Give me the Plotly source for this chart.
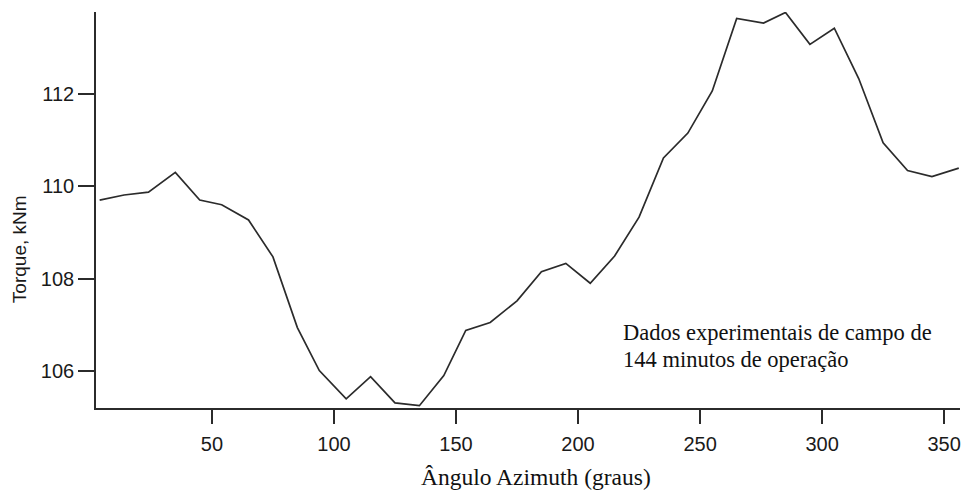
import plotly.graph_objects as go

# Azimuth angle (degrees) and measured rotor torque (kNm)
azimuth = [4, 14, 24, 35, 45, 54, 65, 75, 85, 94, 105, 115, 125, 135, 145, 154,
           164, 175, 185, 195, 205, 215, 225, 235, 245, 255, 265, 276, 285, 295,
           305, 315, 325, 335, 345, 356]
torque = [109.70, 109.81, 109.87, 110.30, 109.70, 109.60, 109.27, 108.47, 106.94,
          106.01, 105.40, 105.88, 105.31, 105.25, 105.90, 106.88, 107.05, 107.52,
          108.15, 108.33, 107.90, 108.49, 109.33, 110.61, 111.15, 112.06, 113.63,
          113.53, 113.76, 113.07, 113.42, 112.33, 110.94, 110.34, 110.21, 110.39]

x_ticks = [50, 100, 150, 200, 250, 300, 350]
y_ticks = [106, 108, 110, 112]

x_title = "Ângulo Azimuth (graus)"
y_title = "Torque, kNm"
note_lines = ["Dados experimentais de campo de", "144 minutos de operação"]

sans = "Liberation Sans, Arial, sans-serif"
serif = "Liberation Serif, Times New Roman, serif"
ink = "#2b2b2b"

fig = go.Figure(
    go.Scatter(
        x=azimuth,
        y=torque,
        mode="lines",
        line=dict(color=ink, width=1.7),
        hoverinfo="x+y",
        showlegend=False,
    )
)

fig.update_xaxes(
    range=[2.5, 356.5],
    tickvals=x_ticks,
    ticks="outside",
    ticklen=14,
    tickwidth=1.6,
    tickcolor=ink,
    showline=True,
    linecolor=ink,
    linewidth=1.6,
    showgrid=False,
    zeroline=False,
    ticklabelstandoff=3,
    tickfont=dict(family=sans, size=20, color="#1a1a1a"),
)
fig.update_yaxes(
    range=[105.2, 113.77],
    tickvals=y_ticks,
    ticks="outside",
    ticklen=16,
    tickwidth=1.6,
    tickcolor=ink,
    showline=True,
    linecolor=ink,
    linewidth=1.6,
    showgrid=False,
    zeroline=False,
    tickfont=dict(family=sans, size=20, color="#1a1a1a"),
)

# axis titles placed as annotations so their offsets can be set freely
fig.add_annotation(
    text=y_title,
    textangle=-90,
    xref="paper", yref="paper",
    x=-0.0885, y=0.40,
    xanchor="center", yanchor="middle",
    showarrow=False,
    font=dict(family=sans, size=19, color="#1a1a1a"),
)
fig.add_annotation(
    text=x_title,
    xref="paper", yref="paper",
    x=0.509, y=-0.174,
    xanchor="center", yanchor="middle",
    showarrow=False,
    font=dict(family=serif, size=23.5, color="#111"),
)

# two-line note inside the plot area
for line, y_pos in zip(note_lines, [0.1894, 0.1237]):
    fig.add_annotation(
        text=line,
        xref="x", yref="paper",
        x=217.5, y=y_pos,
        xanchor="left", yanchor="middle",
        showarrow=False,
        font=dict(family=serif, size=22.5, color="#111"),
    )

fig.update_layout(
    width=971,
    height=495,
    margin=dict(l=96, r=11, t=12, b=87),
    paper_bgcolor="white",
    plot_bgcolor="white",
)

fig.write_html("out.html")
